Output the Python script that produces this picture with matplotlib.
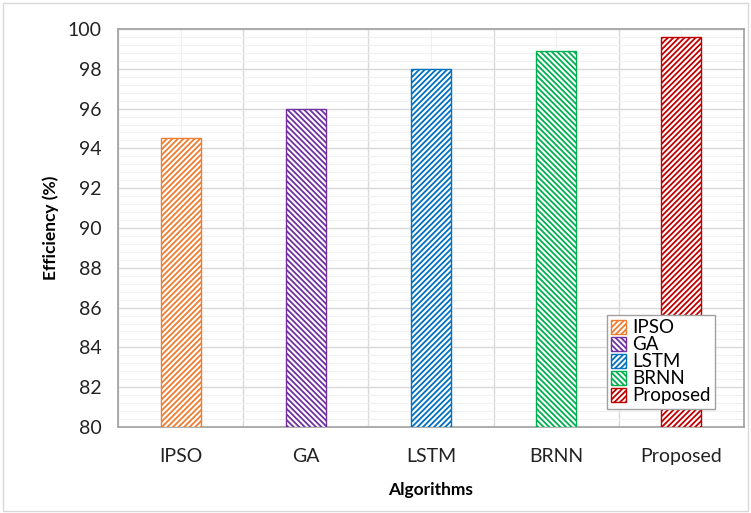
import matplotlib.pyplot as plt
import matplotlib.patches as mpatches
from matplotlib.ticker import MultipleLocator, FixedLocator
import numpy as np

algorithms = ["IPSO", "GA", "LSTM", "BRNN", "Proposed"]
efficiency = [94.5, 96.0, 98.0, 98.9, 99.6]
colors = ["#ED7D31", "#7030A0", "#0070C0", "#00B050", "#C00000"]
hatches = ["//////", "\\\\\\\\\\\\", "//////", "\\\\\\\\\\\\", "//////"]

plt.rcParams["font.family"] = ["Lato", "DejaVu Sans"]
plt.rcParams["hatch.linewidth"] = 1.3

fig = plt.figure(figsize=(7.51, 5.13), dpi=100)
ax = fig.add_axes([118 / 751, 1 - 427 / 513, (744 - 118) / 751, (427 - 29) / 513])

x = np.arange(len(algorithms))
for i, (val, c, h) in enumerate(zip(efficiency, colors, hatches)):
    ax.bar(x[i], val - 80, bottom=80, width=0.32, facecolor="white",
           edgecolor=c, hatch=h, linewidth=1.0, zorder=3, label=algorithms[i])

ax.set_ylim(80, 100)
ax.set_xlim(-0.5, len(algorithms) - 0.5)
ax.yaxis.set_major_locator(MultipleLocator(2))
ax.yaxis.set_minor_locator(MultipleLocator(0.4))
ax.set_xticks(x)
ax.set_xticklabels(algorithms)
ax.xaxis.set_minor_locator(FixedLocator(np.arange(-0.5, len(algorithms), 1.0)))

ax.grid(which="major", axis="y", color="#d9d9d9", linewidth=1.0, zorder=0)
ax.grid(which="minor", axis="y", color="#f0f0f0", linewidth=0.8, zorder=0)
ax.grid(which="minor", axis="x", color="#d9d9d9", linewidth=1.0, zorder=0)
ax.grid(which="major", axis="x", color="#f0f0f0", linewidth=0.8, zorder=0)
ax.set_axisbelow(True)

ax.tick_params(axis="both", which="both", length=0, labelsize=14, colors="#222222")
ax.tick_params(axis="x", pad=15)
ax.tick_params(axis="y", pad=12)
for s in ax.spines.values():
    s.set_color("#a0a0a0")
    s.set_linewidth(1.2)

ax.set_ylabel("Efficiency (%)", fontsize=12.5, fontweight="bold", labelpad=6)
ax.set_xlabel("Algorithms", fontsize=12.5, fontweight="bold", labelpad=12)

handles = [mpatches.Patch(facecolor="white", edgecolor=c, hatch=h, label=a)
           for a, c, h in zip(algorithms, colors, hatches)]
leg = ax.legend(handles=handles, loc="lower right", bbox_to_anchor=(0.954, 0.045),
                borderaxespad=0, fontsize=13.5, frameon=True, fancybox=False,
                edgecolor="#a0a0a0", handlelength=0.8, handleheight=0.8,
                handletextpad=0.3, labelspacing=0.0, borderpad=0.25, framealpha=1)
leg.get_frame().set_linewidth(1.0)

fig.patches.append(mpatches.Rectangle((0.004, 0.004), 0.992, 0.99, transform=fig.transFigure,
                                      fill=False, edgecolor="#d9d9d9", linewidth=1.0))

fig.savefig("out.png", dpi=100)
